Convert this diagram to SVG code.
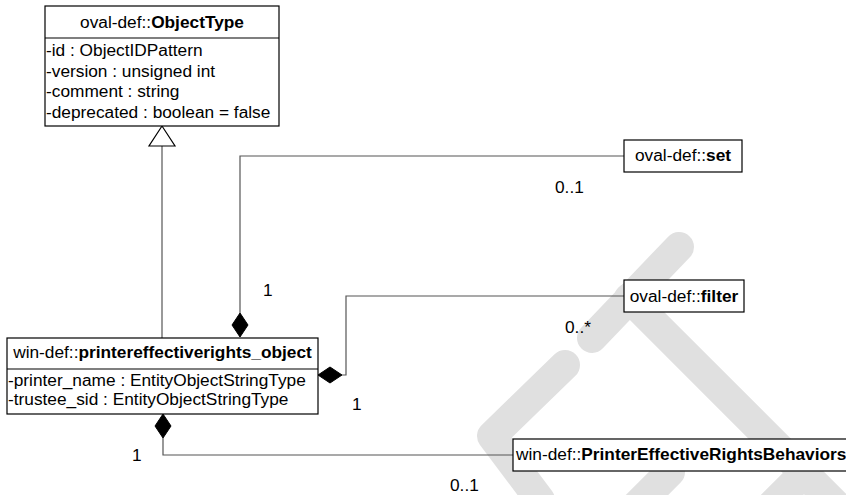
<svg xmlns="http://www.w3.org/2000/svg" width="846" height="495" viewBox="0 0 846 495">
  <style>
    text { font-family: "Liberation Sans", Arial, sans-serif; font-size: 17.3px; fill: #000; }
    .b { font-weight: bold; }
    .mid { text-anchor: middle; }
    .box { fill: #fff; stroke: #000; stroke-width: 1.2; }
    .sep { stroke: #000; stroke-width: 1.2; }
    .conn { fill: none; stroke: #555; stroke-width: 1.2; }
    .dia { fill: #000; stroke: #000; stroke-width: 1; }
    .tri { fill: #fff; stroke: #000; stroke-width: 1.2; }
    .wm { fill: none; stroke: #e0e0e0; stroke-width: 30; stroke-linecap: round; stroke-linejoin: round; }
  </style>

  <g id="watermark">
    <path class="wm" d="M679,247 L592,338"/>
    <path class="wm" d="M629,298 L880,549"/>
    <path class="wm" d="M565,365 L492,436 L540,500"/>
    <path class="wm" d="M670,472 L620,522"/>
    <path class="wm" d="M797,480 L747,530"/>
  </g>

  <g id="connectors">
    <!-- generalization -->
    <line class="conn" x1="162" y1="146" x2="162" y2="338"/>
    <polygon class="tri" points="162,126 149,146 175,146"/>
    <!-- set -->
    <polyline class="conn" points="240,313 240,156 624,156"/>
    <polygon class="dia" points="240,313 248,325 240,337 232,325"/>
    <!-- filter -->
    <polyline class="conn" points="342,375 346,375 346,296 624,296"/>
    <polygon class="dia" points="318,375 330,367 342,375 330,383"/>
    <!-- behaviors -->
    <polyline class="conn" points="163,438 163,455 513,455"/>
    <polygon class="dia" points="163,414 171,426 163,438 155,426"/>
    <!-- multiplicities -->
    <text x="555" y="193">0..1</text>
    <text x="263" y="296">1</text>
    <text x="565" y="333">0..*</text>
    <text x="352" y="410">1</text>
    <text x="132" y="461">1</text>
    <text x="450" y="491">0..1</text>
  </g>

  <g id="ObjectType">
    <rect class="box" x="45" y="6" width="234" height="120"/>
    <line class="sep" x1="45" y1="38" x2="279" y2="38"/>
    <text class="mid" x="162" y="28">oval-def::<tspan class="b">ObjectType</tspan></text>
    <text x="46" y="56">-id : ObjectIDPattern</text>
    <text x="46" y="76.5">-version : unsigned int</text>
    <text x="46" y="97">-comment : string</text>
    <text x="46" y="117.5">-deprecated : boolean = false</text>
  </g>

  <g id="printereffectiverights_object">
    <rect class="box" x="7" y="338" width="311" height="76"/>
    <line class="sep" x1="7" y1="369" x2="318" y2="369"/>
    <text class="mid" x="162.5" y="358">win-def::<tspan class="b">printereffectiverights_object</tspan></text>
    <text x="8" y="386">-printer_name : EntityObjectStringType</text>
    <text x="8" y="405">-trustee_sid : EntityObjectStringType</text>
  </g>

  <g id="set">
    <rect class="box" x="624" y="140" width="118" height="32"/>
    <text class="mid" x="683" y="161">oval-def::<tspan class="b">set</tspan></text>
  </g>

  <g id="filter">
    <rect class="box" x="624" y="280" width="120" height="32"/>
    <text class="mid" x="684" y="302">oval-def::<tspan class="b">filter</tspan></text>
  </g>

  <g id="PrinterEffectiveRightsBehaviors">
    <rect class="box" x="513" y="439" width="345" height="32"/>
    <text x="516" y="460">win-def::<tspan class="b">PrinterEffectiveRightsBehaviors</tspan></text>
  </g>
</svg>
